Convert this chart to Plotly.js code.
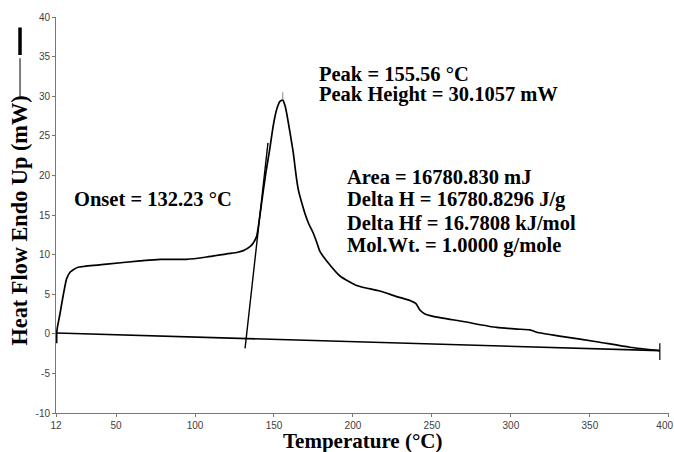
<!DOCTYPE html>
<html>
<head>
<meta charset="utf-8">
<script src="https://cdn.plot.ly/plotly-3.0.1.min.js"></script>
<style>html,body{margin:0;padding:0;background:#fff;}#chart{width:674px;height:452px;}</style>
</head>
<body>
<div id="chart"></div>
<script>
// DSC heat-flow curve (°C, mW)
const curveT = [12.4, 12.5, 12.8, 14.5, 16.6, 18.8, 21, 23, 26, 29.3, 44.1, 65.2, 77.8, 94.7, 107.4, 120, 127, 130.6, 134.8, 137, 139, 141, 143.2, 145, 147.4, 149, 150.6, 152.3, 153.8, 155.56, 157, 158, 160, 162.2, 164, 165.4, 167.5, 169.6, 172, 174.9, 177, 179.1, 183.4, 191.8, 202.3, 217.1, 227.7, 236.1, 239.9, 242.4, 245.6, 250.8, 269.8, 291, 303.6, 312, 316.3, 333, 354.3, 375.3, 394.3];
const curveHF = [-1.2, 0.2, 0.7, 2.5, 4.9, 7.0, 7.8, 8.1, 8.4, 8.5, 8.8, 9.2, 9.4, 9.4, 9.7, 10.1, 10.3, 10.5, 11.0, 11.5, 12.3, 14.8, 18.0, 20.5, 23.4, 25.6, 27.4, 28.7, 29.35, 29.5, 28.8, 27.9, 25.6, 22.9, 20.0, 18.2, 16.6, 15.2, 13.9, 12.7, 11.6, 10.4, 9.2, 7.3, 6.1, 5.4, 4.7, 4.2, 3.8, 3.0, 2.5, 2.2, 1.55, 0.8, 0.6, 0.5, 0.2, -0.35, -1.0, -1.7, -2.13];
// baseline
const baseT = [12.4, 394.3];
const baseHF = [0.1, -2.13];
// onset tangent
const tanT = [131.7, 146.2];
const tanHF = [-1.84, 24.1];
// peak marker
const peakT = [155.56, 155.56];
const peakHF = [29.5, 30.5];
// end marker
const endT = [394.3, 394.3];
const endHF = [-1.2, -3.3];
// axis ticks
const xTicks = [12, 50, 100, 150, 200, 250, 300, 350, 400];
const xTickText = ['12', '50', '100', '150', '200', '250', '300', '350', '400\u00a0\u00a0\u00a0'];
const yTicks = [-10, -5, 0, 5, 10, 15, 20, 25, 30, 35, 40];
// annotation texts
const labels = [
  {t: 'Onset = 132.23 °C', x: 21.9, y: 17.0},
  {t: 'Peak = 155.56 °C', x: 177.0, y: 32.8},
  {t: 'Peak Height = 30.1057 mW', x: 177.0, y: 30.25},
  {t: 'Area = 16780.830 mJ', x: 195.0, y: 19.8},
  {t: 'Delta H = 16780.8296 J/g', x: 195.0, y: 16.9},
  {t: 'Delta Hf = 16.7808 kJ/mol', x: 195.0, y: 14.0},
  {t: 'Mol.Wt. = 1.0000 g/mole', x: 195.0, y: 11.1}
];

const serif = 'Liberation Serif, Times New Roman, serif';
const line = (x, y, w, c, shape) => ({x: x, y: y, type: 'scatter', mode: 'lines', line: {color: c || '#000', width: w, shape: shape || 'linear', smoothing: 0.6}, hoverinfo: 'skip', showlegend: false});

const data = [
  line(baseT, baseHF, 1.6),
  line(tanT, tanHF, 1.4),
  line(curveT, curveHF, 1.7, '#000', 'spline'),
  line(peakT, peakHF, 1, '#888'),
  line(endT, endHF, 1.2)
];

const annotations = labels.map(l => ({
  x: l.x, y: l.y, xref: 'x', yref: 'y', text: '<b>' + l.t + '</b>', showarrow: false,
  xanchor: 'left', yanchor: 'middle', font: {family: serif, size: 20.5, color: '#000'}
}));
annotations.push({
  x: 0.5, y: -0.071, xref: 'paper', yref: 'paper', text: '<b>Temperature (°C)</b>', showarrow: false,
  xanchor: 'center', yanchor: 'middle', font: {family: serif, size: 21, color: '#000'}
});
annotations.push({
  x: -0.0587, y: 0.486, xref: 'paper', yref: 'paper', text: '<b>Heat Flow Endo Up (mW)</b>', showarrow: false,
  textangle: -90, xanchor: 'center', yanchor: 'middle', font: {family: serif, size: 22.3, color: '#000'}
});

const shapes = [
  {type: 'line', xref: 'paper', yref: 'paper', x0: -0.0587, x1: -0.0587, y0: 0.793, y1: 0.896, line: {color: '#000', width: 1}},
  {type: 'line', xref: 'paper', yref: 'paper', x0: -0.0587, x1: -0.0587, y0: 0.904, y1: 0.9735, line: {color: '#000', width: 3.5}}
];

const axisCommon = {
  showgrid: false, zeroline: false, showline: true, linecolor: '#777', linewidth: 1,
  ticks: 'outside', ticklen: 3, tickcolor: '#777', tickwidth: 1,
  tickfont: {family: 'Liberation Sans, Arial, sans-serif', size: 10, color: '#404040'},
  tickmode: 'array', fixedrange: true, ticklabeloverflow: 'allow'
};

const layout = {
  width: 674, height: 452,
  margin: {l: 56, r: 5, t: 17, b: 39, pad: 0},
  paper_bgcolor: '#fff', plot_bgcolor: '#fff',
  showlegend: false,
  xaxis: Object.assign({}, axisCommon, {range: [12, 400.1], tickvals: xTicks, ticktext: xTickText}),
  yaxis: Object.assign({}, axisCommon, {range: [-10, 40], tickvals: yTicks, ticktext: yTicks.map(String)}),
  annotations: annotations,
  shapes: shapes
};

Plotly.newPlot('chart', data, layout, {staticPlot: true, displayModeBar: false});
</script>
</body>
</html>
